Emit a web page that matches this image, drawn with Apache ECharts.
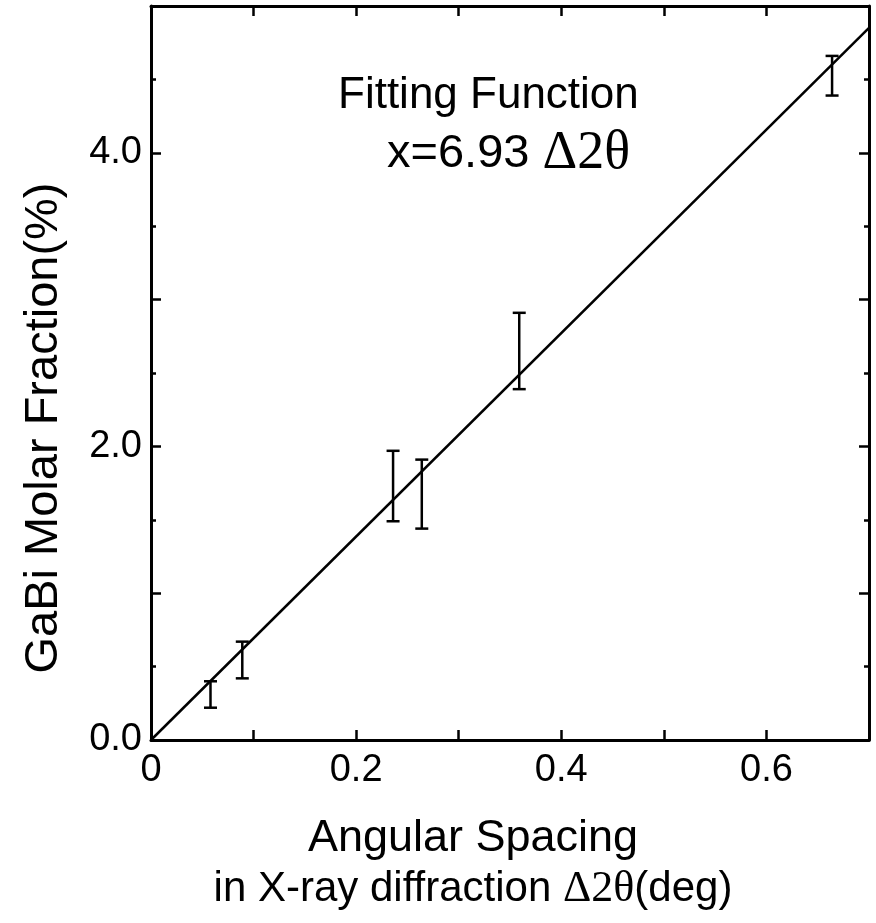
<!DOCTYPE html>
<html>
<head>
<meta charset="utf-8">
<style>
  html, body { margin: 0; padding: 0; background: #fff; }
  #chart { width: 876px; height: 923px; }
</style>
<script src="https://cdn.jsdelivr.net/npm/echarts@6/dist/echarts.min.js"></script>
</head>
<body>
<div id="chart"></div>
<script>
// Measured angular spacing (deg) and GaBi molar fraction error ranges (%)
const spacing = [0.058, 0.089, 0.236, 0.264, 0.359, 0.664];
const fracLow = [0.22, 0.42, 1.49, 1.44, 2.39, 4.39];
const fracHigh = [0.40, 0.67, 1.97, 1.91, 2.91, 4.66];

// Linear fit x = 6.93 * Δ2θ, drawn between its two end points
const fitX = [0, 0.7];
const fitY = [0, 4.851];

// Axis ranges
const xMin = 0, xMax = 0.7, xStep = 0.1;
const yMin = 0, yMax = 5, yStep = 1;

const sans = '"Liberation Sans", Arial, Helvetica, sans-serif';
const serif = '"Liberation Serif", "Times New Roman", serif';

const chart = echarts.init(document.getElementById('chart'), null, { renderer: 'canvas' });

const axisLine = { show: true, onZero: false, lineStyle: { color: '#000', width: 3 } };
const axisTick = { show: true, inside: true, length: 10, lineStyle: { color: '#000', width: 2.5 } };
const minorTick = { show: true, splitNumber: 2, length: 5, lineStyle: { color: '#000', width: 2.5 } };

const errorData = spacing.map((x, i) => [x, fracLow[i], fracHigh[i]]);

chart.setOption({
  animation: false,
  backgroundColor: '#fff',
  grid: { left: 151, right: 7, top: 6, bottom: 183, containLabel: false },
  xAxis: [
    {
      type: 'value', position: 'bottom', min: xMin, max: xMax, interval: xStep,
      axisLine, axisTick, splitLine: { show: false },
      axisLabel: {
        margin: 12, color: '#000', fontSize: 38, fontFamily: sans,
        formatter: v => {
          const k = Math.round(v * 10);
          if (k % 2 !== 0) return '';
          return k === 0 ? '0' : (k / 10).toFixed(1);
        }
      }
    },
    {
      type: 'value', position: 'top', min: xMin, max: xMax, interval: xStep,
      axisLine, axisTick, splitLine: { show: false }, axisLabel: { show: false }
    }
  ],
  yAxis: [
    {
      type: 'value', position: 'left', min: yMin, max: yMax, interval: yStep,
      axisLine, axisTick, minorTick, splitLine: { show: false },
      minorSplitLine: { show: false },
      axisLabel: {
        margin: 9, color: '#000', fontSize: 38, fontFamily: sans,
        formatter: v => (Math.round(v) % 2 === 0 && v < yMax) ? v.toFixed(1) : ''
      }
    },
    {
      type: 'value', position: 'right', min: yMin, max: yMax, interval: yStep,
      axisLine, axisTick, minorTick, splitLine: { show: false },
      minorSplitLine: { show: false },
      axisLabel: { show: false }
    }
  ],
  series: [
    {
      type: 'line',
      data: fitX.map((x, i) => [x, fitY[i]]),
      showSymbol: false,
      lineStyle: { color: '#000', width: 2.5 },
      z: 3
    },
    {
      type: 'custom',
      data: errorData,
      z: 4,
      renderItem: (params, api) => {
        const x = api.value(0);
        const lo = api.coord([x, api.value(1)]);
        const hi = api.coord([x, api.value(2)]);
        const half = 6.5;
        const style = { stroke: '#000', lineWidth: 2.5, fill: null };
        return {
          type: 'group',
          children: [
            { type: 'line', shape: { x1: lo[0], y1: lo[1], x2: hi[0], y2: hi[1] }, style },
            { type: 'line', shape: { x1: hi[0] - half, y1: hi[1], x2: hi[0] + half, y2: hi[1] }, style },
            { type: 'line', shape: { x1: lo[0] - half, y1: lo[1], x2: lo[0] + half, y2: lo[1] }, style }
          ]
        };
      }
    }
  ],
  graphic: [
    {
      type: 'text', x: 338, y: 96,
      style: { text: 'Fitting Function', fill: '#000', font: '44px ' + sans, align: 'left', verticalAlign: 'middle' }
    },
    {
      type: 'text', x: 387, y: 154,
      style: {
        text: '{a|x=6.93 }{b|Δ2θ}', fill: '#000', align: 'left', verticalAlign: 'middle',
        rich: {
          a: { fontSize: 47, fontFamily: sans, fill: '#000' },
          b: { fontSize: 54, fontFamily: serif, fill: '#000' }
        }
      }
    },
    {
      type: 'text', x: 473, y: 839,
      style: { text: 'Angular Spacing', fill: '#000', font: '45px ' + sans, align: 'center', verticalAlign: 'middle' }
    },
    {
      type: 'text', x: 473, y: 889,
      style: {
        text: '{a|in X-ray diffraction }{b|Δ2θ}{a|(deg)}', fill: '#000', align: 'center', verticalAlign: 'middle',
        rich: {
          a: { fontSize: 42, fontFamily: sans, fill: '#000' },
          b: { fontSize: 44, fontFamily: serif, fill: '#000' }
        }
      }
    },
    {
      type: 'text', x: 44, y: 428, rotation: Math.PI / 2,
      style: { text: 'GaBi Molar Fraction(%)', fill: '#000', font: '47px ' + sans, align: 'center', verticalAlign: 'middle' }
    }
  ]
});
</script>
</body>
</html>
